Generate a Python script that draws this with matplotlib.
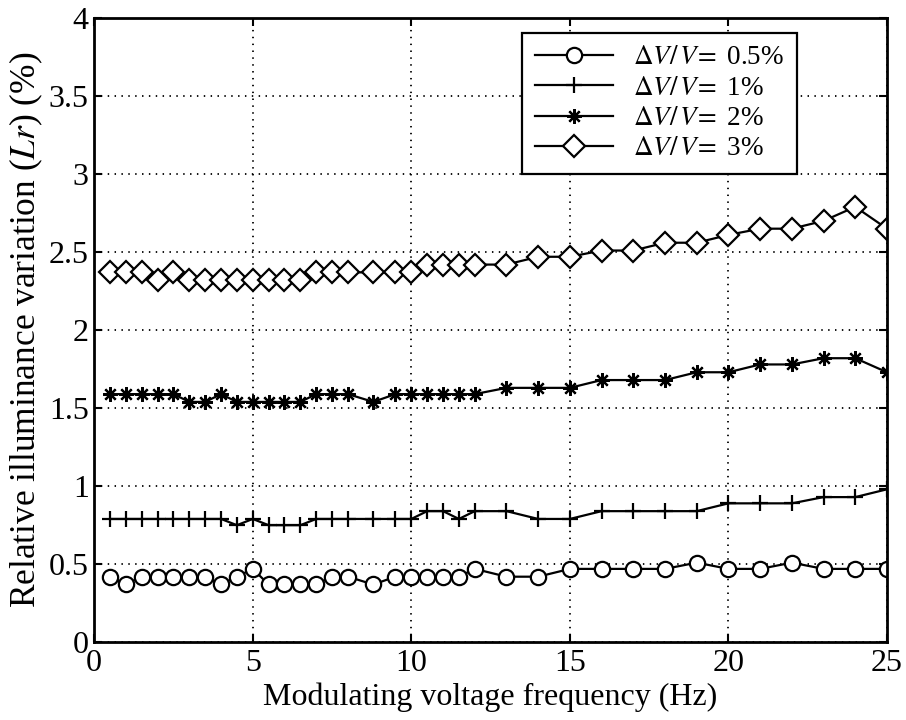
import matplotlib
matplotlib.use('Agg')
import matplotlib.pyplot as plt

plt.rcParams['font.family'] = ['Liberation Serif', 'DejaVu Serif']
plt.rcParams['mathtext.fontset'] = 'stix'

# modulating frequency (Hz)
freq = [0.5, 1, 1.5, 2, 2.5, 3, 3.5, 4, 4.5, 5, 5.5, 6, 6.5, 7, 7.5, 8,
        8.8, 9.5, 10, 10.5, 11, 11.5, 12,
        13, 14, 15, 16, 17, 18, 19, 20, 21, 22, 23, 24, 25]

lr_05 = [0.42, 0.37, 0.42, 0.42, 0.42, 0.42, 0.42, 0.37, 0.42, 0.47, 0.37, 0.37, 0.37, 0.37, 0.42, 0.42,
         0.37, 0.42, 0.42, 0.42, 0.42, 0.42, 0.47,
         0.42, 0.42, 0.47, 0.47, 0.47, 0.47, 0.51, 0.47, 0.47, 0.51, 0.47, 0.47, 0.47]
lr_1 = [0.79, 0.79, 0.79, 0.79, 0.79, 0.79, 0.79, 0.79, 0.75, 0.79, 0.75, 0.75, 0.75, 0.79, 0.79, 0.79,
        0.79, 0.79, 0.79, 0.84, 0.84, 0.79, 0.84,
        0.84, 0.79, 0.79, 0.84, 0.84, 0.84, 0.84, 0.89, 0.89, 0.89, 0.93, 0.93, 0.98]
lr_2 = [1.59, 1.59, 1.59, 1.59, 1.59, 1.54, 1.54, 1.59, 1.54, 1.54, 1.54, 1.54, 1.54, 1.59, 1.59, 1.59,
        1.54, 1.59, 1.59, 1.59, 1.59, 1.59, 1.59,
        1.63, 1.63, 1.63, 1.68, 1.68, 1.68, 1.73, 1.73, 1.78, 1.78, 1.82, 1.82, 1.73]
lr_3 = [2.37, 2.37, 2.37, 2.32, 2.37, 2.32, 2.32, 2.32, 2.32, 2.32, 2.32, 2.32, 2.32, 2.37, 2.37, 2.37,
        2.37, 2.37, 2.37, 2.42, 2.42, 2.42, 2.42,
        2.42, 2.47, 2.47, 2.51, 2.51, 2.56, 2.56, 2.61, 2.65, 2.65, 2.70, 2.79, 2.65]

labels = [r'$\Delta V/\,V\!=$ 0.5%', r'$\Delta V/\,V\!=$ 1%',
          r'$\Delta V/\,V\!=$ 2%', r'$\Delta V/\,V\!=$ 3%']
xticks = [0, 5, 10, 15, 20, 25]
yticks = [0, 0.5, 1, 1.5, 2, 2.5, 3, 3.5, 4]
ytick_labels = ['0', '0.5', '1', '1.5', '2', '2.5', '3', '3.5', '4']

fig = plt.figure(figsize=(9.06, 7.2), dpi=100)
ax = fig.add_axes([0.104, 0.108, 0.875, 0.867])

common = dict(color='black', lw=1.6, mfc='white', mec='black', mew=1.6)
ax.plot(freq, lr_05, marker='o', ms=11, label=labels[0], **common)
ax.plot(freq, lr_1, marker='+', ms=12, label=labels[1], **common)
ax.plot(freq, lr_2, marker=(8, 2, 0), ms=10.5, label=labels[2], **common)
ax.plot(freq, lr_3, marker='D', ms=11.5, label=labels[3], **common)

ax.set_xlim(0, 25)
ax.set_ylim(0, 4)
ax.set_xticks(xticks)
ax.set_yticks(yticks)
ax.set_yticklabels(ytick_labels)
ax.grid(True, color='black', lw=1.3, linestyle=(0, (0.8, 3)))
ax.tick_params(direction='in', length=6, width=1.5, labelsize=23, top=True, right=True)
ax.tick_params(axis='x', pad=5)
ax.tick_params(axis='y', pad=4)
for s in ax.spines.values():
    s.set_linewidth(2)

ax.set_xlabel('Modulating voltage frequency (Hz)', fontsize=23, labelpad=3)
ax.set_ylabel('Relative illuminance variation ($Lr$) (%)', fontsize=25.5, labelpad=3)

leg = ax.legend(loc='upper right', bbox_to_anchor=(0.886, 0.976), borderaxespad=0,
                fontsize=19.5, numpoints=1, handlelength=2.9, fancybox=False, framealpha=1,
                edgecolor='black', borderpad=0.45, labelspacing=0.2, handletextpad=0.75)
leg.get_frame().set_linewidth(1.6)

fig.savefig('out.png', dpi=100)
